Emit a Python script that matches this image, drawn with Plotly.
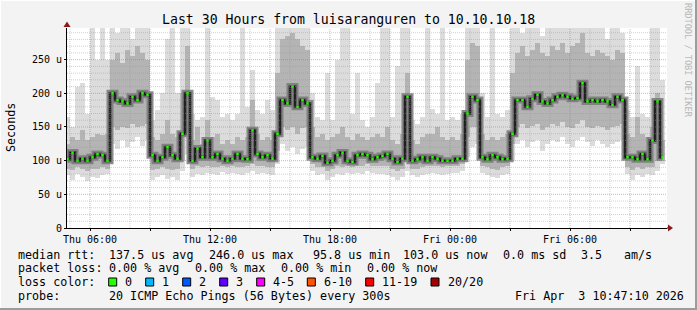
import plotly.graph_objects as go
import pandas as pd

# ---------------- data (15-minute bins) ----------------
START = "2026-04-02 04:52:30"
MED = [102, 112, 100, 103, 100, 105, 110, 108, 100,
       200, 190, 188, 185, 195, 190, 200, 198,
       108, 100, 105, 120, 108, 103,
       140, 200,
       100, 118, 105, 130, 105, 110, 103, 100, 103, 110, 103, 102, 145, 110, 105, 108, 103,
       140, 190, 185, 210, 180, 190, 185,
       105, 103, 107, 97, 100, 108, 112, 100, 98, 108, 110, 108, 102, 105,
       107, 110, 103, 98, 103,
       195,
       100, 102, 105, 100, 105, 103, 100, 100, 100, 103, 103,
       170, 195, 190,
       105, 102, 108, 105, 102, 103,
       140, 190, 190, 180, 192, 198, 188, 185, 190, 195, 197, 195, 192, 193, 215, 188, 190, 188, 190, 188, 183, 195, 190,
       105, 105, 102, 110, 102, 130, 188, 105]
LO = [78, 72, 80, 75, 70, 76, 74, 78, 80,
      125, 118, 130, 120, 128, 135, 122, 130,
      72, 75, 78, 73, 76, 72,
      85, 110,
      75, 80, 78, 82, 80, 78, 83, 80, 82, 80, 79, 82, 85, 80, 82, 80, 78,
      95, 125, 115, 120, 110, 118, 120,
      85, 78, 80, 72, 76, 80, 78, 82, 80, 82, 80, 84, 82, 80,
      80, 78, 75, 72, 75,
      85,
      78, 75, 78, 80, 82, 80, 78, 80, 82, 82, 84,
      105, 120, 125,
      82, 78, 76, 74, 78, 80,
      100, 125, 130, 120, 128, 130, 115, 125, 130, 128, 135, 125, 120, 130, 135, 128, 122, 130, 125, 120, 125, 128, 130,
      80, 72, 78, 75, 80, 78, 85, 95]
MLO = [88, 86, 90, 88, 85, 88, 87, 90, 88,
       150, 145, 150, 148, 155, 150, 152, 155,
       86, 88, 90, 87, 86, 88,
       100, 140,
       88, 92, 90, 92, 90, 90, 92, 90, 92, 90, 90, 92, 95, 92, 92, 90, 90,
       115, 150, 145, 150, 140, 148, 150,
       95, 90, 90, 85, 88, 92, 90, 92, 90, 92, 92, 95, 92, 92,
       92, 92, 88, 85, 88,
       110,
       88, 88, 90, 92, 92, 92, 90, 92, 92, 92, 95,
       135, 150, 150,
       92, 90, 88, 86, 90, 92,
       125, 150, 155, 148, 152, 155, 145, 150, 155, 152, 158, 150, 148, 155, 160, 150, 148, 152, 150, 145, 150, 152, 155,
       90, 86, 90, 88, 90, 90, 100, 100]
MHI = [125, 135, 130, 145, 130, 135, 140, 138, 140,
       250, 260, 245, 265, 255, 270, 260, 250,
       135, 130, 140, 160, 140, 135,
       200, 270,
       130, 150, 125, 160, 135, 140, 125, 130, 125, 135, 130, 135, 190, 140, 130, 135, 130,
       230, 280, 285, 290, 280, 270, 265,
       150, 135, 140, 130, 135, 140, 150, 135, 130, 140, 135, 130, 135, 140,
       135, 150, 130, 125, 140,
       230,
       130, 125, 135, 140, 140, 150, 135, 130, 135, 130, 140,
       250, 275, 270,
       140, 130, 135, 130, 135, 140,
       230, 260, 270, 255, 265, 275, 260, 255, 270, 265, 275, 260, 270, 275, 290, 260, 255, 265, 260, 255, 250, 265, 260,
       140, 135, 165, 140, 135, 150, 200, 130]
HI = [165, 150, 210, 215, 170, 297, 250, 297, 250,
      297, 290, 297, 297, 280, 297, 297, 297,
      160, 175, 200, 280, 297, 200,
      297, 297,
      170, 160, 165, 297, 195, 190, 165, 170, 160, 170, 297, 180, 235, 175, 170, 190, 175,
      297, 297, 297, 297, 297, 297, 297,
      200, 165, 160, 230, 160, 250, 297, 297, 170, 230, 160, 150, 165, 215,
      297, 297, 165, 240, 297,
      297,
      160, 155, 165, 297, 176, 170, 297, 160, 165, 160, 170,
      297, 297, 297,
      200, 165, 297, 170, 165, 175,
      297, 297, 290, 297, 297, 297, 285, 297, 297, 297, 297, 297, 297, 297, 297, 297, 297, 297, 297, 280, 297, 297, 290,
      175, 165, 240, 170, 165, 297, 297, 220]

X_RANGE = ["2026-04-02 04:51:00", "2026-04-03 10:51:00"]
Y_MAX = 297
Y_TICKS = [0, 50, 100, 150, 200, 250]
Y_TICK_TEXT = ["0", "50 u", "100 u", "150 u", "200 u", "250 u"]
X_TICK_TEXT = ["Thu 06:00", "", "Thu 12:00", "", "Thu 18:00", "", "Fri 00:00", "", "Fri 06:00", ""]

TITLE = "Last 30 Hours from luisaranguren to 10.10.10.18"
LEGEND_L1 = [("median rtt:", 16), ("137.5 us avg", 107.3), ("246.0 us max", 207.3),
             ("95.8 us min", 310.5), ("103.0 us now", 400.7), ("0.0 ms sd", 500.7),
             ("3.5", 579.3), ("am/s", 621.7)]
LEGEND_L2 = [("packet loss:", 16), ("0.00 % avg", 107.3), ("0.00 % max", 193.3),
             ("0.00 % min", 279.3), ("0.00 % now", 365)]
LOSS_LABELS = ["0", "1", "2", "3", "4-5", "6-10", "11-19", "20/20"]
LOSS_COLORS = ["#26ff00", "#00b8ff", "#0059ff", "#5e00ff", "#ff00ff", "#ff5500", "#ff0000", "#a10000"]
LOSS_X = [108.7, 145.7, 182.7, 219.7, 256.7, 307.3, 365.7, 431]
PROBE = [("probe:", 16), ("20 ICMP Echo Pings (56 Bytes) every 300s", 107.3),
         ("Fri Apr  3 10:47:10 2026", 513.3)]

# ---------------- figure ----------------
W, H = 697, 310
L, R, T, B = 67, 30, 28, 82
PW, PH = W - L - R, H - T - B
MONO = "DejaVu Sans Mono"


def px(x):
    return (x - L) / PW


def py(y):
    return (H - B - y) / PH


times = pd.date_range(START, periods=len(MED), freq="15min")
bw = 15 * 60 * 1000

fig = go.Figure()
fig.add_trace(go.Bar(x=times, base=LO, y=[h - l for h, l in zip(HI, LO)], width=bw,
                     marker=dict(color="#dcdcdc", line=dict(width=0)), hoverinfo="skip"))
fig.add_trace(go.Bar(x=times, base=MLO, y=[h - l for h, l in zip(MHI, MLO)], width=bw,
                     marker=dict(color="#b4b4b4", line=dict(width=0)), hoverinfo="skip"))
fig.add_trace(go.Scatter(x=times, y=MED, mode="lines", line=dict(color="rgba(120,120,120,0.85)", width=7, shape="hvh"),
                         hoverinfo="skip"))
fig.add_trace(go.Scatter(x=times, y=MED, mode="lines", line=dict(color="rgba(60,60,60,0.9)", width=3, shape="hvh"),
                         hoverinfo="skip"))
fig.add_trace(go.Scatter(x=times, y=MED, mode="lines", line=dict(color="#000000", width=1, shape="hvh"),
                         hoverinfo="skip"))
fig.add_trace(go.Scatter(x=times, y=MED, mode="markers",
                         marker=dict(symbol="square", size=2.5, color="#26ff00", line=dict(width=0)),
                         hoverinfo="skip"))

shapes = []
# grid (drawn on top like rrdtool)
for v in range(10, Y_MAX, 10):
    major = v % 50 == 0
    shapes.append(dict(type="line", xref="paper", yref="y", x0=0, x1=1, y0=v, y1=v, layer="above",
                       line=dict(color="rgba(235,80,80,0.5)" if major else "rgba(150,150,150,0.45)",
                                 width=1, dash="1px,1px")))
hours = pd.date_range("2026-04-02 05:00", "2026-04-03 10:00", freq="1h")
for hr in hours:
    major = hr.hour % 3 == 0
    shapes.append(dict(type="line", xref="x", yref="paper", x0=hr, x1=hr, y0=0, y1=1, layer="above",
                       line=dict(color="rgba(235,80,80,0.5)" if major else "rgba(150,150,150,0.45)",
                                 width=1, dash="1px,1px")))
# arrows
shapes.append(dict(type="line", xref="paper", yref="paper", x0=1, x1=px(670), y0=0, y1=0,
                   line=dict(color="#000000", width=1)))
shapes.append(dict(type="path", xref="paper", yref="paper",
                   path=f"M {px(668)} {py(224.5)} L {px(673)} {py(228)} L {px(668)} {py(231.5)} Z",
                   fillcolor="#8b1a1a", line=dict(width=0)))
shapes.append(dict(type="path", xref="paper", yref="paper",
                   path=f"M {px(63.5)} {py(27)} L {px(67)} {py(21.5)} L {px(70.5)} {py(27)} Z",
                   fillcolor="#8b1a1a", line=dict(width=0)))
# loss colour boxes
for c, xx in zip(LOSS_COLORS, LOSS_X):
    shapes.append(dict(type="rect", xref="paper", yref="paper", x0=px(xx), x1=px(xx + 8),
                       y0=py(286), y1=py(278), fillcolor=c, line=dict(color="#000000", width=1)))
# image frame
shapes.append(dict(type="line", xref="paper", yref="paper", x0=px(0), x1=px(W), y0=py(0.5), y1=py(0.5),
                   line=dict(color="#ffffff", width=1)))
shapes.append(dict(type="line", xref="paper", yref="paper", x0=px(0.5), x1=px(0.5), y0=py(0), y1=py(H),
                   line=dict(color="#ffffff", width=1)))
shapes.append(dict(type="line", xref="paper", yref="paper", x0=px(0), x1=px(W), y0=py(H - 1), y1=py(H - 1),
                   line=dict(color="#9c9c9c", width=2)))
shapes.append(dict(type="line", xref="paper", yref="paper", x0=px(W - 1), x1=px(W - 1), y0=py(0), y1=py(H),
                   line=dict(color="#9c9c9c", width=2)))

ann = []
ann.append(dict(text=TITLE, x=px(348.5), y=py(19), xref="paper", yref="paper", showarrow=False,
                xanchor="center", yanchor="middle", font=dict(family=MONO, size=13.2, color="#000000")))
ann.append(dict(text="Seconds", x=px(11), y=py(128), xref="paper", yref="paper", showarrow=False,
                textangle=-90, xanchor="center", yanchor="middle",
                font=dict(family=MONO, size=11.7, color="#000000")))
ann.append(dict(text="RRDTOOL / TOBI OETIKER", x=px(688), y=py(60), xref="paper", yref="paper",
                showarrow=False, textangle=90, xanchor="center", yanchor="middle",
                font=dict(family=MONO, size=8.6, color="#b8b8b8")))


def legend_text(t, x, y):
    ann.append(dict(text=t.replace(" ", "&nbsp;"), x=px(x), y=py(y), xref="paper", yref="paper",
                    showarrow=False, xanchor="left", yanchor="middle",
                    font=dict(family=MONO, size=11.7, color="#000000")))


for t, x in LEGEND_L1:
    legend_text(t, x, 254.5)
for t, x in LEGEND_L2:
    legend_text(t, x, 268.3)
legend_text("loss color:", 16, 282.3)
for t, x in zip(LOSS_LABELS, LOSS_X):
    legend_text(t, x + 14.7, 282.3)
for t, x in PROBE:
    legend_text(t, x, 296)

fig.update_layout(
    width=W, height=H, margin=dict(l=L, r=R, t=T, b=B, pad=0),
    paper_bgcolor="#f3f3f3", plot_bgcolor="#ffffff",
    showlegend=False, barmode="overlay", bargap=0,
    shapes=shapes, annotations=ann,
    xaxis=dict(type="date", range=X_RANGE, showgrid=False, zeroline=False,
               tickvals=list(pd.date_range("2026-04-02 06:00", "2026-04-03 09:00", freq="3h")),
               ticktext=X_TICK_TEXT, ticks="outside", ticklen=2, tickcolor="#000000",
               showline=True, linecolor="#000000", linewidth=1,
               tickfont=dict(family=MONO, size=10, color="#000000")),
    yaxis=dict(range=[0, Y_MAX], showgrid=False, zeroline=False,
               tickvals=Y_TICKS, ticktext=Y_TICK_TEXT, ticks="outside", ticklen=2, tickcolor="#000000",
               showline=True, linecolor="#000000", linewidth=1,
               tickfont=dict(family=MONO, size=10, color="#000000")),
)

fig.write_html("out.html")
